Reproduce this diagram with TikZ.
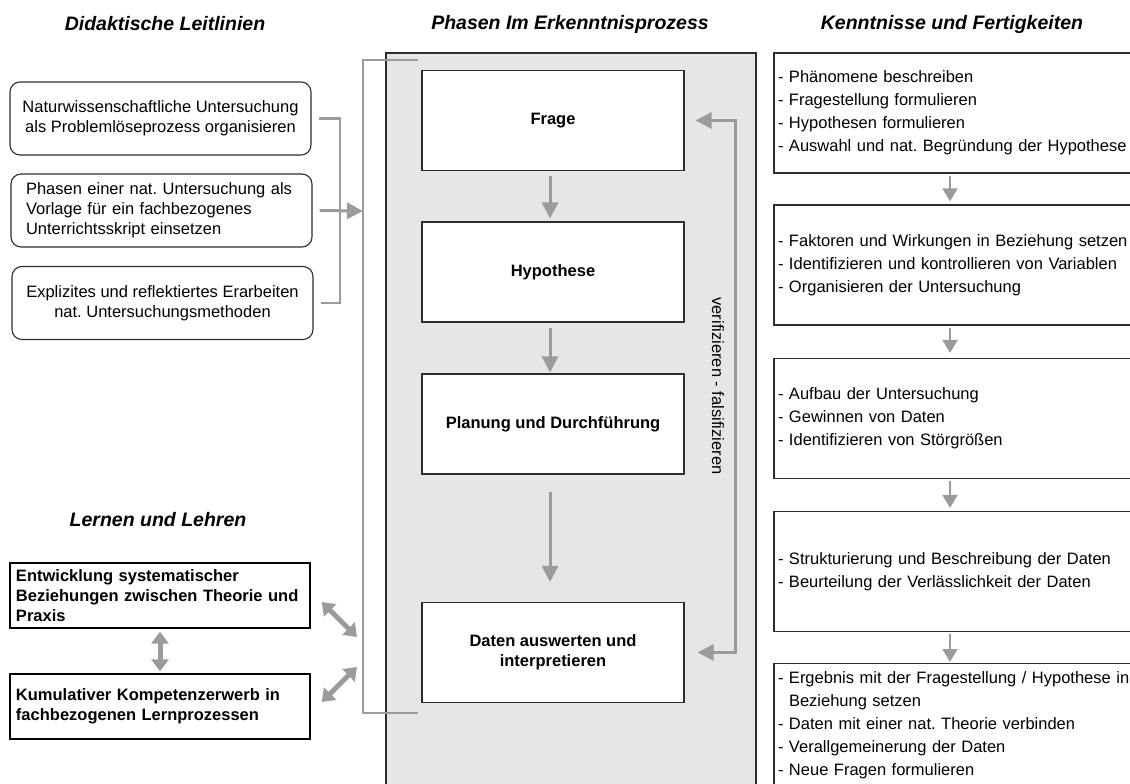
\documentclass[tikz,border=0pt]{standalone}
\usepackage{fontspec}
\setmainfont{Liberation Sans}
\frenchspacing
\usetikzlibrary{arrows.meta, positioning}
\definecolor{arrgray}{RGB}{155,155,155}
\definecolor{boxline}{RGB}{45,45,45}
\definecolor{panelgray}{RGB}{230,230,230}
\newcommand{\drawg}{\draw[arrgray, line width=3pt]}
\newcommand{\drawd}{\draw[arrgray, line width=5pt, {Triangle[length=12pt,width=17pt]}-{Triangle[length=12pt,width=17pt]}]}

\begin{document}
\begin{tikzpicture}[x=1pt, y=-1pt, >={Triangle[length=16pt,width=16pt]},
  leit/.style={draw=boxline, line width=1.1pt, rounded corners=10pt, minimum width=301pt, minimum height=73pt, inner sep=0pt, font=\fontsize{16.5}{19.8}\selectfont},
  phase/.style={draw=boxline, fill=white, line width=1.1pt, minimum width=262pt, minimum height=100pt, align=center, font=\bfseries\fontsize{16.5}{19.8}\selectfont},
  lern/.style={draw=black, line width=1.4pt, minimum width=300pt, minimum height=65pt, text width=288pt, inner xsep=6pt, align=left, font=\bfseries\fontsize{16.5}{19.8}\selectfont},
  kenn/.style={draw=boxline, line width=1.2pt, text width=358pt, inner xsep=4pt, minimum height=120pt, align=left, font=\fontsize{16.5}{23}\selectfont},
  titel/.style={font=\bfseries\itshape\fontsize{19.5}{23}\selectfont}]
%\draw[color=blue] (0,0) grid[step=50] (1130,784); %Raster
\useasboundingbox (0,0) rectangle (1130,784);
\clip (0,0) rectangle (1130,784);

% Hintergrund Erkenntnisprozess
\draw[boxline, fill=panelgray, line width=1.2pt] (386,53) rectangle (756,800);

% Ueberschriften
\node[titel] (tdid) at (165,24) {Didaktische Leitlinien};
\node[titel] (tpha) at (570,24) {Phasen Im Erkenntnisprozess};
\node[titel] (tken) at (952,24) {Kenntnisse und Fertigkeiten};
\node[titel] (tler) at (158,520) {Lernen und Lehren};

% Didaktische Leitlinien
\node[leit, align=center] (l1) at (160.5,118.5) {Naturwissenschaftliche Untersuchung\\als Problemlöseprozess organisieren};
\node[leit, text width=271pt, align=left] (l2) at (161.5,210.5) {Phasen einer nat. Untersuchung als\\Vorlage für ein fachbezogenes\\Unterrichtsskript einsetzen};
\node[leit, align=center] (l3) at (162.5,303) {Explizites und reflektiertes Erarbeiten\\nat. Untersuchungsmethoden};

\coordinate (klam) at (340,211);
\coordinate (bt) at (418,60);
\coordinate (bb) at (418,713);
\coordinate (bm) at (363,211);
\draw[arrgray, line width=2.5pt] ([xshift=7pt]l1.east) -| (klam) |- ([xshift=7pt]l3.east);
\drawg[->] ([xshift=7pt]l2.east) -- (bm);
\draw[arrgray, line width=2.5pt] (bt) -- ++(-55,0) |- (bb);

% Phasen
\node[phase] (frage) at (553,120.5) {Frage};
\node[phase] (hyp) at (553,272) {Hypothese};
\node[phase] (plan) at (553,424) {Planung und Durchführung};
\node[phase] (daten) at (553,652.5) {Daten auswerten und\\interpretieren};

\drawg[->, shorten <=5pt, shorten >=3pt] ([xshift=-3pt]frage.south) -- ([xshift=-3pt]hyp.north);
\drawg[->, shorten <=5pt, shorten >=1pt] ([xshift=-3pt]hyp.south) -- ([xshift=-3pt]plan.north);
\drawg[->, shorten <=17pt, shorten >=20pt] ([xshift=-3pt]plan.south) -- ([xshift=-3pt]daten.north);

% Rueckkopplung
\drawg[<->] ([xshift=13pt]daten.east) -- ++(38,0) |- ([xshift=11pt]frage.east);
\node[rotate=-90, font=\fontsize{16.5}{19.8}\selectfont] (verf) at (718,386) {verifizieren - falsifizieren};

% Lernen und Lehren
\node[lern] (ent) at (160,595.5) {Entwicklung systematischer\\Beziehungen zwischen Theorie und\\Praxis};
\node[lern] (kum) at (160,706.5) {Kumulativer Kompetenzerwerb in\\fachbezogenen Lernprozessen};
\coordinate (ea) at (357,637);
\coordinate (eb) at (357,667);
\drawd[shorten <=3pt, shorten >=2pt] (ent.south) -- (kum.north);
\drawd ([shift={(11,6.5)}]ent.east) -- (ea);
\drawd ([shift={(11,-4.5)}]kum.east) -- (eb);

% Kenntnisse und Fertigkeiten
\node[kenn] (r1) at (957,113) {- Phänomene beschreiben\\- Fragestellung formulieren\\- Hypothesen formulieren\\- Auswahl und nat. Begründung der Hypothese};
\node[kenn] (r2) at (957,265) {- Faktoren und Wirkungen in Beziehung setzen\\- Identifizieren und kontrollieren von Variablen\\- Organisieren der Untersuchung};
\node[kenn] (r3) at (957,418.5) {- Aufbau der Untersuchung\\- Gewinnen von Daten\\- Identifizieren von Störgrößen};
\node[kenn] (r4) at (957,571.5) {- Strukturierung und Beschreibung der Daten\\- Beurteilung der Verlässlichkeit der Daten};
\node[kenn, minimum height=0pt, inner ysep=8pt, anchor=north] (r5) at (957,663) {- Ergebnis mit der Fragestellung / Hypothese in\\\hphantom{- }Beziehung setzen\\- Daten mit einer nat. Theorie verbinden\\- Verallgemeinerung der Daten\\- Neue Fragen formulieren};

\foreach \a/\b/\s in {r1/r2/3, r2/r3/5, r3/r4/3, r4/r5/1}
  \draw[arrgray, line width=2pt, -{Triangle[length=13pt,width=15pt]}, shorten <=2pt, shorten >=\s pt] ([xshift=-7pt]\a.south) -- ([xshift=-7pt]\b.north);

\end{tikzpicture}
\end{document}
